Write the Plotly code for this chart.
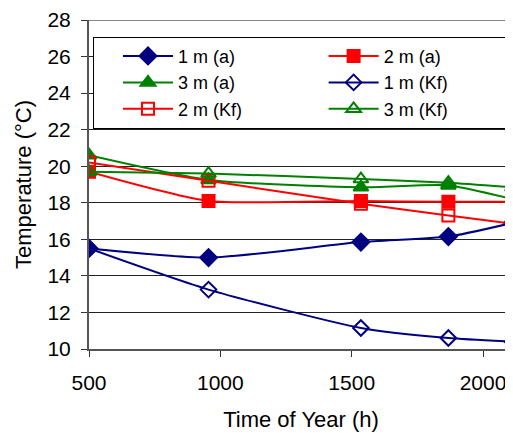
import plotly.graph_objects as go

hours = [500, 955, 1535, 1868, 2112]

t_1m_a = [15.5, 15.0, 15.85, 16.15, 16.9]
t_2m_a = [19.7, 18.1, 18.1, 18.05, 18.05]
t_3m_a = [20.6, 19.25, 18.85, 18.95, 18.2]
t_1m_kf = [15.5, 13.25, 11.15, 10.6, 10.4]
t_2m_kf = [20.2, 19.2, 17.95, 17.3, 16.85]
t_3m_kf = [19.7, 19.6, 19.3, 19.1, 18.85]

series = [
    ("1 m (a)", t_1m_a, "#000080", "diamond", 13),
    ("2 m (a)", t_2m_a, "#FF0000", "square", 12),
    ("3 m (a)", t_3m_a, "#008000", "triangle-up", 13),
    ("1 m (Kf)", t_1m_kf, "#000080", "diamond-open", 12),
    ("2 m (Kf)", t_2m_kf, "#FF0000", "square-open", 12),
    ("3 m (Kf)", t_3m_kf, "#008000", "triangle-up-open", 13),
]

fig = go.Figure()
for name, vals, col, sym, sz in series:
    fig.add_trace(go.Scatter(
        x=hours, y=vals, name=name, mode="lines+markers",
        line=dict(color=col, width=2, shape="spline", smoothing=0.6),
        marker=dict(color=col, symbol=sym, size=sz,
                    line=dict(color=col, width=2)),
    ))

font = "Arial, Liberation Sans, sans-serif"
fig.update_layout(
    width=505, height=425,
    margin=dict(l=81, r=0, t=8, b=84),
    paper_bgcolor="white", plot_bgcolor="white",
    font=dict(family=font, size=21, color="black"),
    showlegend=True,
    legend=dict(
        orientation="h", x=0.0094, y=0.949, xanchor="left", yanchor="top",
        entrywidth=0.485, entrywidthmode="fraction",
        bgcolor="white", bordercolor="black", borderwidth=1,
        font=dict(family=font, size=18, color="black"),
        indentation=24, itemwidth=50, tracegroupgap=0,
    ),
    xaxis=dict(
        range=[500, 2114], tickvals=[500, 1000, 1500, 2000],
        showgrid=False, zeroline=False,
        showline=True, linecolor="#555", linewidth=2, mirror=False,
        ticks="outside", ticklen=6, tickcolor="#333", tickwidth=1,
        ticklabelstandoff=8, ticklabeloverflow="allow",
        title=dict(text="Time of Year (h)", font=dict(size=22), standoff=18),
    ),
    yaxis=dict(
        range=[10, 28], dtick=2,
        showgrid=True, gridcolor="#222", gridwidth=1, zeroline=False,
        showline=True, linecolor="#555", linewidth=2,
        ticks="outside", ticklen=6, tickcolor="#333", tickwidth=1,
        ticklabelstandoff=6, ticklabeloverflow="allow",
        title=dict(text="Temperature (°C)", font=dict(size=22), standoff=10),
    ),
)
fig.add_shape(type="line", xref="paper", yref="y", x0=0, x1=1, y0=28, y1=28,
              line=dict(color="#888", width=2), layer="above")

fig.write_html("out.html")
